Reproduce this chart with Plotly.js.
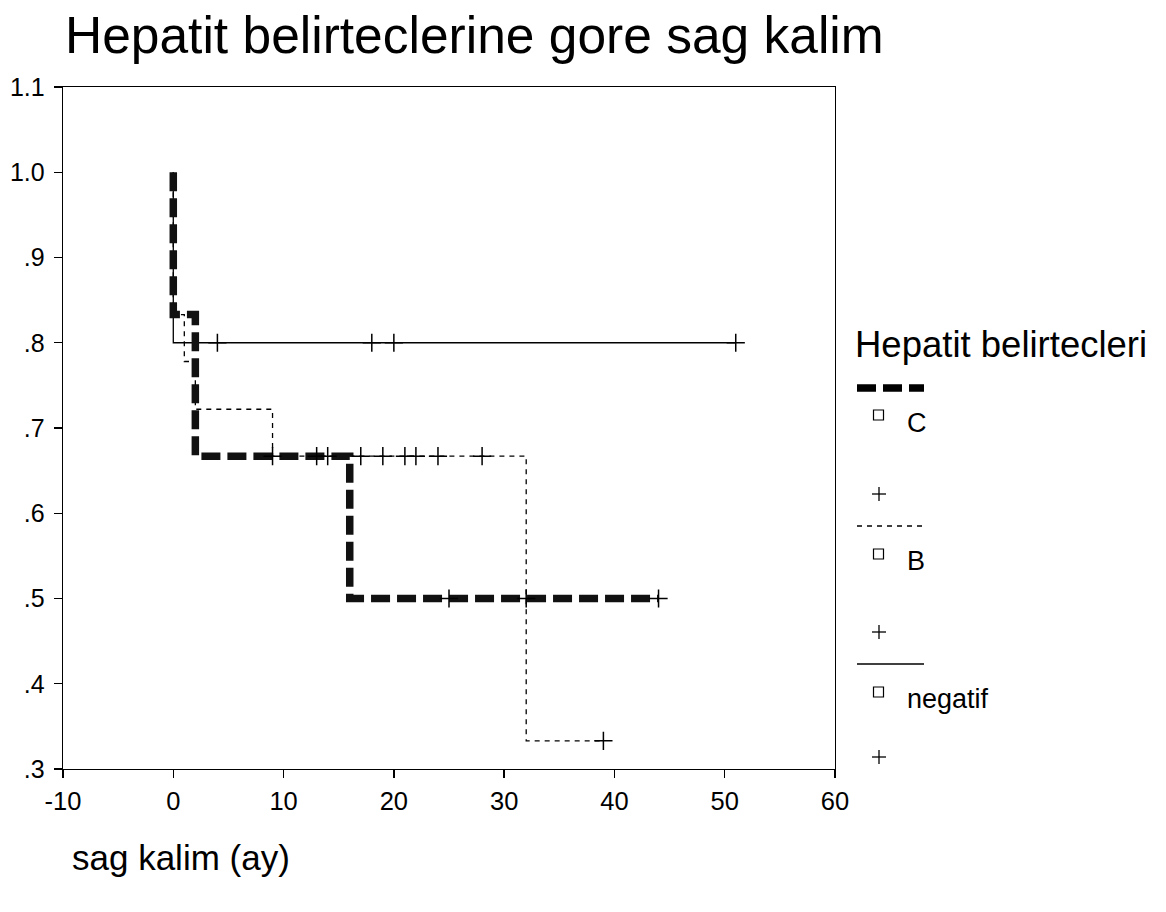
<!DOCTYPE html>
<html>
<head>
<meta charset="utf-8">
<script src="https://cdn.plot.ly/plotly-3.0.1.min.js"></script>
<style>html,body{margin:0;padding:0;background:#fff;}#chart{width:1166px;height:912px;}</style>
</head>
<body>
<div id="chart"></div>
<script>
// ---- data ----
var seriesNames = ["C", "B", "negatif"];

var cTime = [0, 0, 2, 16, 44];
var cSurv = [1.0, 0.833, 0.667, 0.5, 0.5];
var cCensTime = [25, 32, 44];
var cCensSurv = [0.5, 0.5, 0.5];

var bTime = [0, 0, 1, 2, 9, 32, 39];
var bSurv = [1.0, 0.833, 0.778, 0.722, 0.667, 0.333, 0.333];
var bCensTime = [9, 13, 14, 17, 19, 21, 22, 24, 28, 39];
var bCensSurv = [0.667, 0.667, 0.667, 0.667, 0.667, 0.667, 0.667, 0.667, 0.667, 0.333];

var nTime = [0, 0, 51];
var nSurv = [1.0, 0.8, 0.8];
var nCensTime = [4, 18, 20, 51];
var nCensSurv = [0.8, 0.8, 0.8, 0.8];

var xTickVals = [-10, 0, 10, 20, 30, 40, 50, 60];
var xTickText = ["-10", "0", "10", "20", "30", "40", "50", "60"];
var yTickVals = [0.3, 0.4, 0.5, 0.6, 0.7, 0.8, 0.9, 1.0, 1.1];
var yTickText = [".3", ".4", ".5", ".6", ".7", ".8", ".9", "1.0", "1.1"];

var titleText = "Hepatit belirteclerine gore sag kalim";
var xTitleText = "sag kalim (ay)";
var legendTitleText = "Hepatit belirtecleri";

// ---- layout geometry ----
var W = 1166, H = 912;
var mL = 63, mR = 331, mT = 87, mB = 143;
var pw = W - mL - mR, ph = H - mT - mB;
function px(x) { return (x - mL) / pw; }
function py(y) { return (H - mB - y) / ph; }

var FONT = "Liberation Sans, Arial, sans-serif";
var thickDash = "19px,7px";
var thinDash = "5px,5px";

var censorMarker = {symbol: "cross-thin-open", size: 13, color: "#000", line: {color: "#000", width: 1.5}};

var traces = [
  {x: nTime, y: nSurv, mode: "lines", line: {shape: "hv", color: "#000", width: 1.3}, name: seriesNames[2], hoverinfo: "skip"},
  {x: bTime, y: bSurv, mode: "lines", line: {shape: "hv", color: "#000", width: 1.3, dash: thinDash}, name: seriesNames[1], hoverinfo: "skip"},
  {x: cTime, y: cSurv, mode: "lines", line: {shape: "hv", color: "#111", width: 7.5, dash: thickDash}, name: seriesNames[0], hoverinfo: "skip"},
  {x: nCensTime, y: nCensSurv, mode: "markers", marker: censorMarker, hoverinfo: "skip"},
  {x: bCensTime, y: bCensSurv, mode: "markers", marker: censorMarker, hoverinfo: "skip"},
  {x: cCensTime, y: cCensSurv, mode: "markers", marker: censorMarker, hoverinfo: "skip"}
];

// legend built from shapes + annotations
var legendRows = [
  {name: seriesNames[0], lineY: 388, dash: thickDash, width: 7.5, sqY: 415, textY: 423, plusY: 494},
  {name: seriesNames[1], lineY: 526, dash: thinDash, width: 1.3, sqY: 554, textY: 561, plusY: 632},
  {name: seriesNames[2], lineY: 664, dash: "solid", width: 1.3, sqY: 692, textY: 699, plusY: 757}
];
var shapes = [];
var annotations = [
  {text: xTitleText, xref: "paper", yref: "paper", x: px(70), y: py(858), xanchor: "left", yanchor: "middle", showarrow: false, font: {family: FONT, size: 35, color: "#000"}},
  {text: legendTitleText, xref: "paper", yref: "paper", x: px(853), y: py(344), xanchor: "left", yanchor: "middle", showarrow: false, font: {family: FONT, size: 36.5, color: "#000"}}
];
legendRows.forEach(function (r) {
  shapes.push({type: "line", xref: "paper", yref: "paper", x0: px(857), x1: px(924), y0: py(r.lineY), y1: py(r.lineY),
    line: {color: "#000", width: r.width, dash: r.dash}});
  shapes.push({type: "rect", xref: "paper", yref: "paper", x0: px(873.5), x1: px(883.5), y0: py(r.sqY + 5), y1: py(r.sqY - 5),
    line: {color: "#000", width: 1.2}, fillcolor: "rgba(0,0,0,0)"});
  shapes.push({type: "line", xref: "paper", yref: "paper", x0: px(872), x1: px(886), y0: py(r.plusY), y1: py(r.plusY), line: {color: "#000", width: 1.3}});
  shapes.push({type: "line", xref: "paper", yref: "paper", x0: px(879), x1: px(879), y0: py(r.plusY - 7), y1: py(r.plusY + 7), line: {color: "#000", width: 1.3}});
  annotations.push({text: r.name, xref: "paper", yref: "paper", x: px(905), y: py(r.textY), xanchor: "left", yanchor: "middle", showarrow: false,
    font: {family: FONT, size: 27, color: "#000"}});
});

var layout = {
  width: W, height: H,
  margin: {l: mL, r: mR, t: mT, b: mB, pad: 0},
  paper_bgcolor: "#fff", plot_bgcolor: "#fff",
  showlegend: false,
  font: {family: FONT, color: "#000"},
  title: {text: titleText, xref: "container", yref: "container", x: 65 / W, xanchor: "left", y: 1 - 35 / H, yanchor: "middle",
    font: {family: FONT, size: 51.5, color: "#000"}},
  xaxis: {range: [-10, 60], tickmode: "array", tickvals: xTickVals, ticktext: xTickText,
    showgrid: false, zeroline: false, showline: true, linecolor: "#000", linewidth: 1.3, mirror: true,
    ticks: "outside", ticklen: 8, tickwidth: 1.3, tickcolor: "#000", ticklabelstandoff: 1,
    tickfont: {family: FONT, size: 25.5, color: "#000"}},
  yaxis: {range: [0.3, 1.1], tickmode: "array", tickvals: yTickVals, ticktext: yTickText,
    showgrid: false, zeroline: false, showline: true, linecolor: "#000", linewidth: 1.3, mirror: true,
    ticks: "outside", ticklen: 8, tickwidth: 1.3, tickcolor: "#000", ticklabelstandoff: 4,
    tickfont: {family: FONT, size: 25, color: "#000"}},
  shapes: shapes,
  annotations: annotations
};

Plotly.newPlot("chart", traces, layout, {displayModeBar: false, staticPlot: true});
</script>
</body>
</html>
